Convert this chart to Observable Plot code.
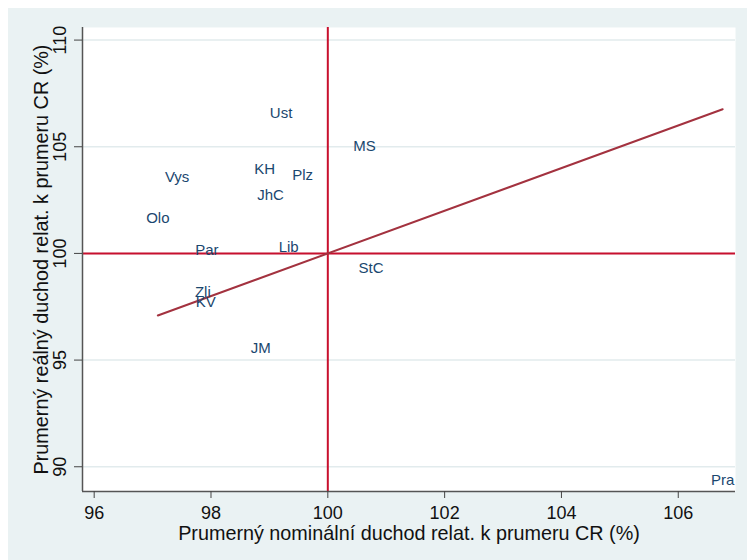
<!DOCTYPE html>
<html>
<head>
<meta charset="utf-8">
<script src="https://cdn.jsdelivr.net/npm/d3@7"></script>
<script src="https://cdn.jsdelivr.net/npm/@observablehq/plot@0.6"></script>
<style>
  html, body { margin: 0; padding: 0; background: #ffffff; }
  #wrap { position: absolute; left: 8px; top: 8px; width: 739px; height: 552px; background: #eaf2f3; }
  #wrap svg { display: block; }
</style>
</head>
<body>
<div id="wrap"></div>
<script>
// Region abbreviations and their values (% of Czech average)
const regions = ["Ust", "MS", "KH", "Plz", "Vys", "JhC", "Olo", "Par", "Lib", "StC", "Zli", "KV", "JM", "Pra"];
const nominal = [99.20, 100.63, 98.92, 99.57, 97.42, 99.02, 97.09, 97.93, 99.33, 100.74, 97.86, 97.91, 98.85, 106.76];
const real    = [106.58, 105.03, 103.95, 103.67, 103.58, 102.73, 101.65, 100.15, 100.30, 99.31, 98.19, 97.72, 95.56, 89.37];
const xTicks = [96, 98, 100, 102, 104, 106];
const yTicks = [90, 95, 100, 105, 110];
const xTitle = "Prumerný nominální duchod relat. k prumeru CR (%)";
const yTitle = "Prumerný reálný duchod relat. k prumeru CR (%)";
const refValue = 100;

const data = regions.map((r, i) => ({region: r, x: nominal[i], y: real[i]}));
const [xmin, xmax] = d3.extent(nominal);
const diag = [{v: xmin}, {v: xmax}];

const font = "Liberation Sans, Arial, sans-serif";

const chart = Plot.plot({
  width: 739,
  height: 552,
  marginLeft: 74,
  marginRight: 12,
  marginTop: 19,
  marginBottom: 69,
  style: {background: "transparent", fontFamily: font},
  x: {domain: [95.8, 106.98], ticks: xTicks},
  y: {domain: [88.84, 110.59], ticks: yTicks},
  marks: [
    Plot.frame({fill: "white", stroke: null}),
    Plot.gridY(yTicks, {stroke: "#e2ebed", strokeOpacity: 1, strokeWidth: 1.5}),
    Plot.ruleX([refValue], {stroke: "#c8102e", strokeWidth: 2}),
    Plot.ruleY([refValue], {stroke: "#c8102e", strokeWidth: 2}),
    Plot.line(diag, {x: "v", y: "v", stroke: "#a3323f", strokeWidth: 2}),
    Plot.text(data, {x: "x", y: "y", text: "region", fill: "#1a476f", fontSize: 15, fontFamily: font}),
    Plot.ruleX([95.8], {stroke: "#555", strokeWidth: 1.5}),
    Plot.ruleY([88.84], {stroke: "#555", strokeWidth: 1.5}),
    Plot.axisX(xTicks, {tickSize: 7, tickPadding: 8, fontSize: 18, fill: "#111", stroke: "#444", label: null, fontFamily: font}),
    Plot.axisY(yTicks, {tickSize: 8, tickFormat: () => "", stroke: "#444", label: null}),
    Plot.text(yTicks, {y: d => d, text: d => String(d), frameAnchor: "left", textAnchor: "middle", lineAnchor: "middle", dx: -22, rotate: -90, fontSize: 18, fill: "#111", fontFamily: font}),
    Plot.text([xTitle], {text: d => d, frameAnchor: "bottom", textAnchor: "middle", lineAnchor: "middle", dy: 42, fontSize: 19.8, fill: "#111", fontFamily: font}),
    Plot.text([yTitle], {text: d => d, frameAnchor: "left", textAnchor: "middle", lineAnchor: "middle", dx: -41, rotate: -90, fontSize: 19.8, fill: "#111", fontFamily: font})
  ]
});
document.getElementById("wrap").appendChild(chart);
</script>
</body>
</html>
